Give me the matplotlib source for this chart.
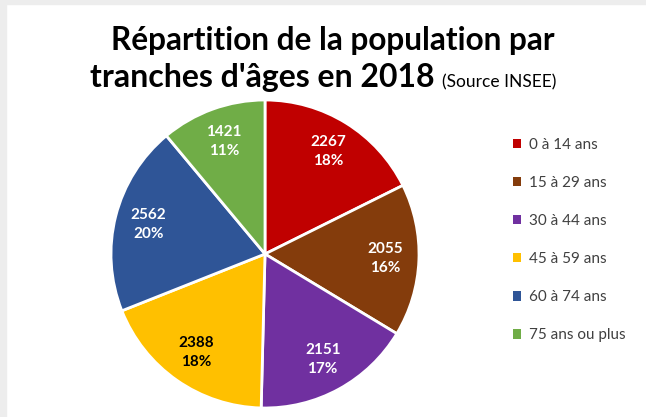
import numpy as np
import matplotlib.pyplot as plt
from matplotlib.patches import Patch, Rectangle

plt.rcParams['font.family'] = ['Lato', 'DejaVu Sans']

# Données (INSEE 2018, en milliers)
tranches = ['0 à 14 ans', '15 à 29 ans', '30 à 44 ans', '45 à 59 ans',
            '60 à 74 ans', '75 ans ou plus']
effectifs = [2267, 2055, 2151, 2388, 2562, 1421]
pourcentages = ['18%', '16%', '17%', '18%', '20%', '11%']
couleurs = ['#C00000', '#843C0C', '#7030A0', '#FFC000', '#2F5597', '#70AD47']
couleurs_txt = ['white', 'white', 'white', 'black', 'white', 'white']

W, H = 646, 417
fig = plt.figure(figsize=(W / 100, H / 100), dpi=100)
fig.patch.set_facecolor('white')

# cadre gris (capture Excel)
fig.patches.append(Rectangle((0, 1 - 4 / H), 1, 4 / H, transform=fig.transFigure,
                             color='#EDEDED', zorder=0))
fig.patches.append(Rectangle((0, 0), 6 / W, 1, transform=fig.transFigure,
                             color='#EDEDED', zorder=0))

# camembert
cx, cy, r = 265, 254, 154
ax = fig.add_axes([(cx - r) / W, (H - cy - r) / H, 2 * r / W, 2 * r / H])
wedges, _ = ax.pie(effectifs, colors=couleurs, startangle=90, counterclock=False,
                   wedgeprops=dict(edgecolor='white', linewidth=2))
ax.set_xlim(-1, 1)
ax.set_ylim(-1, 1)

for w, val, pct, c in zip(wedges, effectifs, pourcentages, couleurs_txt):
    ang = np.deg2rad((w.theta1 + w.theta2) / 2)
    x, y = 0.78 * np.cos(ang), 0.78 * np.sin(ang)
    ax.text(x, y, f"{val}\n{pct}", ha='center', va='center', color=c,
            fontsize=11, fontweight='bold', linespacing=1.45)

# légende
handles = [Patch(facecolor=c) for c in couleurs]
fig.legend(handles, tranches, loc='upper left', bbox_to_anchor=(499 / W, 1 - 124 / H),
           frameon=False, fontsize=11, labelcolor='#404040',
           handlelength=0.55, handleheight=0.55, handletextpad=0.5,
           labelspacing=1.58)

# titre
fig.text(333 / W, 1 - 50 / H, "Répartition de la population par", ha='center',
         va='baseline', fontsize=22.7, fontweight='bold')
fig.text(435 / W, 1 - 87 / H, "tranches d'âges en 2018", ha='right',
         va='baseline', fontsize=23, fontweight='bold')
fig.text(442 / W, 1 - 87 / H, "(Source INSEE)", ha='left',
         va='baseline', fontsize=12.5)

fig.savefig('out.png', dpi=100)
